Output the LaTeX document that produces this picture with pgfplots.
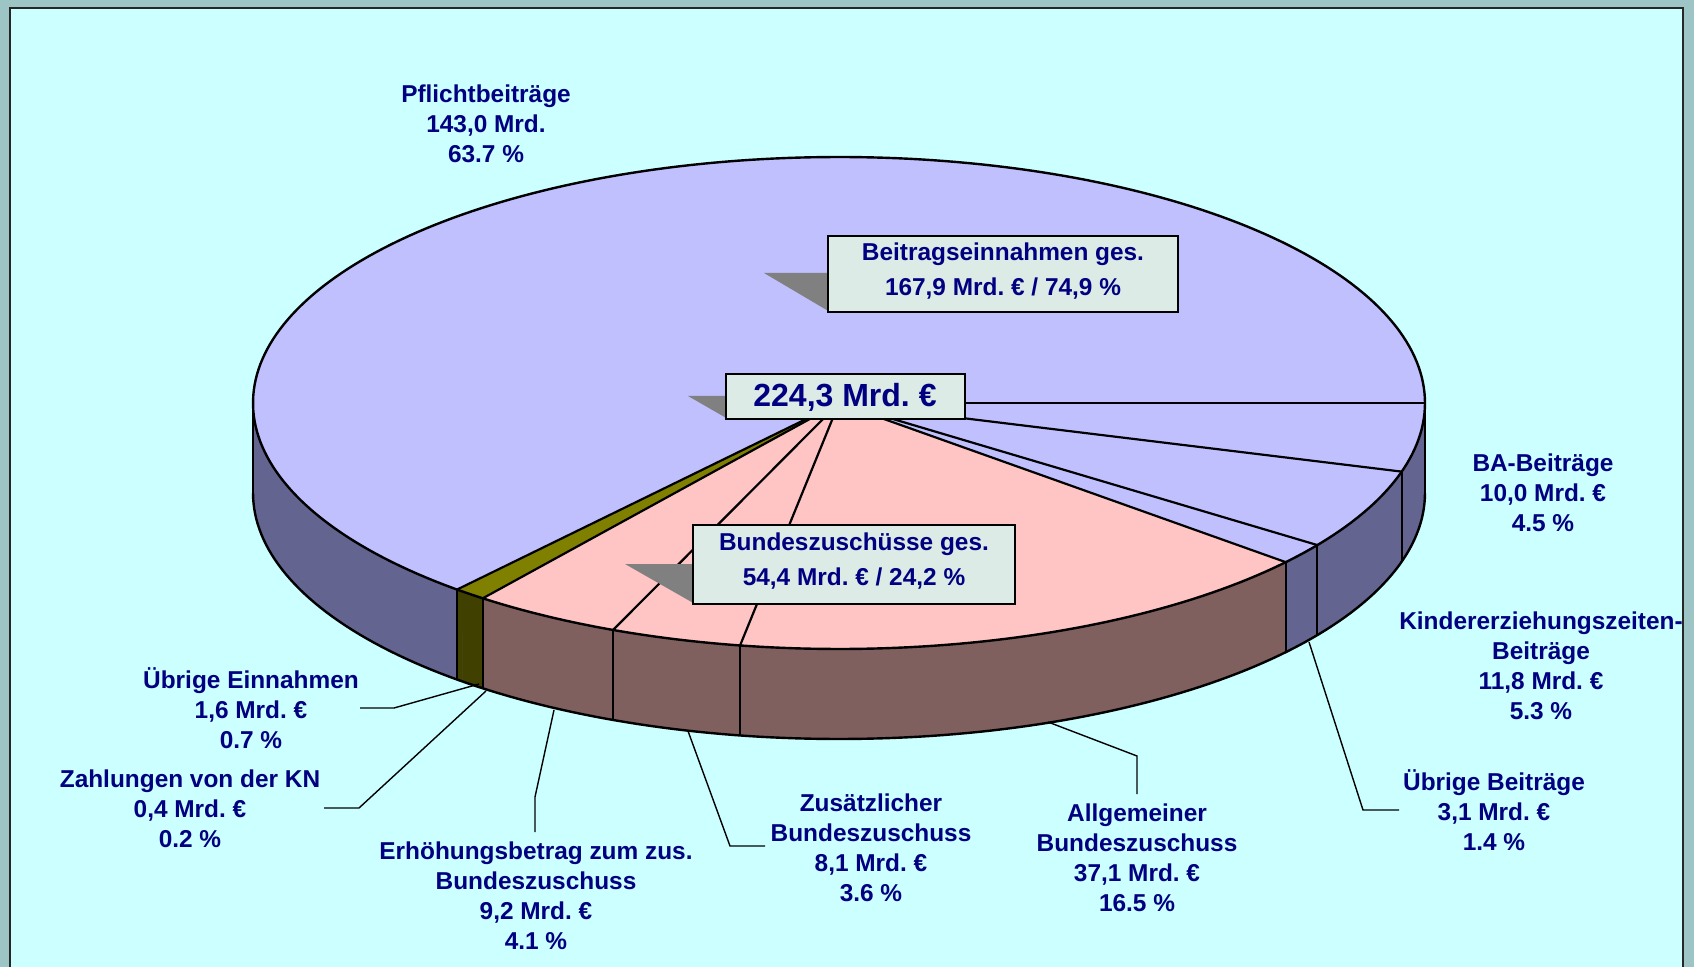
\documentclass[border=0pt]{standalone}
\usepackage{pgfplots}
\pgfplotsset{compat=1.18}
\usepackage{fontspec}
\setmainfont{Liberation Sans}
\definecolor{frameC}{HTML}{9EC5C5}
\definecolor{bgC}{HTML}{CCFFFF}
\definecolor{blueTop}{HTML}{C0C0FF}
\definecolor{blueSide}{HTML}{646491}
\definecolor{pinkTop}{HTML}{FFC4C4}
\definecolor{pinkSide}{HTML}{80605E}
\definecolor{oliveTop}{HTML}{808000}
\definecolor{oliveSide}{HTML}{404000}
\definecolor{boxC}{HTML}{DCEBE5}
\definecolor{navy}{HTML}{000080}
\definecolor{ptr}{HTML}{808080}
% geometry (pixel units)
\def\cx{839}\def\cy{403}\def\rx{586}\def\ry{246}\def\dep{90}
% data: shares in percent
\def\vPf{63.7}\def\vBA{4.5}\def\vKi{5.3}\def\vUB{1.4}\def\vAl{16.5}
\def\vZu{3.6}\def\vEr{4.1}\def\vUE{0.7}\def\vKN{0.2}
\pgfmathsetmacro\aA{0}
\pgfmathsetmacro\aB{\aA+3.6*\vBA}
\pgfmathsetmacro\aC{\aB+3.6*\vKi}
\pgfmathsetmacro\aD{\aC+3.6*\vUB}
\pgfmathsetmacro\aE{\aD+3.6*\vAl}
\pgfmathsetmacro\aF{\aE+3.6*\vZu}
\pgfmathsetmacro\aG{\aF+3.6*\vEr}
\pgfmathsetmacro\aH{\aG+3.6*\vUE}
\pgfmathsetmacro\aI{\aH+3.6*\vKN}
\pgfmathsetmacro\aJ{\aI+3.6*\vPf}
\newcommand\topslice[3]{%
 \addplot[draw=#3, line width=0.4pt, fill=#3, domain=#1:#2, samples=80, variable=\t]
  ({\cx+\rx*cos(\t)},{\cy+\ry*sin(\t)}) -- (axis cs:\cx,\cy) -- cycle;}
\newcommand\sideslice[3]{%
 \addplot[draw=#3, line width=0.4pt, fill=#3, domain=#1:#2, samples=80, variable=\t]
  ({\cx+\rx*cos(\t)},{\cy+\dep+\ry*sin(\t)})
  -- (axis cs:{\cx+\rx*cos(#2)},{\cy+\ry*sin(#2)})
  arc[start angle=-#2, end angle=-#1, x radius=\rx*0.5pt, y radius=\ry*0.5pt] -- cycle;}
\tikzset{lbl/.style={text=navy, align=center, inner sep=0pt,
  font=\bfseries\fontsize{12.2}{15}\selectfont},
  boxlbl/.style={text=navy, align=center, inner sep=0pt,
  font=\bfseries\fontsize{12.2}{17.5}\selectfont}}
\begin{document}%
\begin{tikzpicture}
\begin{axis}[scale only axis, width=847pt, height=483.5pt,
  xmin=0, xmax=1694, ymin=0, ymax=967, y dir=reverse,
  hide axis, clip=false, enlargelimits=false]
% background
\fill[frameC] (axis cs:0,0) rectangle (axis cs:1694,967);
\fill[bgC] (axis cs:10,8) rectangle (axis cs:1683,967);
\draw[line width=1pt, black!85] (axis cs:10,967) -- (axis cs:10,8) -- (axis cs:1683,8) -- (axis cs:1683,967);
% sides
\sideslice{\aA}{\aB}{blueSide}
\sideslice{\aB}{\aC}{blueSide}
\sideslice{\aC}{\aD}{blueSide}
\sideslice{\aD}{\aE}{pinkSide}
\sideslice{\aE}{\aF}{pinkSide}
\sideslice{\aF}{\aG}{pinkSide}
\sideslice{\aG}{\aH}{oliveSide}
\sideslice{\aH}{\aI}{oliveSide}
\sideslice{\aI}{180}{blueSide}
\addplot[draw=black, line width=1.2pt, domain=0:180, samples=150, variable=\t]
  ({\cx+\rx*cos(\t)},{\cy+\dep+\ry*sin(\t)});
\pgfplotsinvokeforeach{\aA,\aB,\aC,\aD,\aE,\aF,\aG,\aI,180}{
  \draw[line width=1.1pt] (axis cs:{\cx+\rx*cos(#1)},{\cy+\ry*sin(#1)}) -- (axis cs:{\cx+\rx*cos(#1)},{\cy+\dep+\ry*sin(#1)});
}
% top faces
\topslice{\aA}{\aB}{blueTop}
\topslice{\aB}{\aC}{blueTop}
\topslice{\aC}{\aD}{blueTop}
\topslice{\aD}{\aE}{pinkTop}
\topslice{\aE}{\aF}{pinkTop}
\topslice{\aF}{\aG}{pinkTop}
\topslice{\aG}{\aH}{oliveTop}
\topslice{\aH}{\aI}{oliveTop}
\topslice{\aI}{\aJ}{blueTop}
\addplot[draw=black, line width=1.2pt, domain=0:360, samples=300, variable=\t]
  ({\cx+\rx*cos(\t)},{\cy+\ry*sin(\t)});
\pgfplotsinvokeforeach{\aA,\aB,\aC,\aD,\aE,\aF,\aG,\aI}{
  \draw[line width=1.1pt] (axis cs:\cx,\cy) -- (axis cs:{\cx+\rx*cos(#1)},{\cy+\ry*sin(#1)});
}
% boxes
\fill[ptr] (axis cs:764,273) -- (axis cs:830,273) -- (axis cs:830,312) -- cycle;
\draw[fill=boxC, line width=0.8pt] (axis cs:828,236) rectangle (axis cs:1178,312);
\node[boxlbl] at (axis cs:1003,271) {Beitragseinnahmen ges.\\167,9 Mrd.~€ / 74,9~\%};
\fill[ptr] (axis cs:688,396) -- (axis cs:728,396) -- (axis cs:728,419) -- cycle;
\draw[fill=boxC, line width=0.8pt] (axis cs:726,374) rectangle (axis cs:965,419);
\node[text=navy, inner sep=0pt, font=\bfseries\fontsize{16}{19}\selectfont] at (axis cs:845,397) {224,3 Mrd.~€};
\fill[ptr] (axis cs:625,564) -- (axis cs:695,564) -- (axis cs:695,604) -- cycle;
\draw[fill=boxC, line width=0.8pt] (axis cs:693,525) rectangle (axis cs:1015,604);
\node[boxlbl] at (axis cs:854,561) {Bundeszuschüsse ges.\\54,4 Mrd.~€ / 24,2~\%};
% leader lines
\draw[line width=0.7pt] (axis cs:1309,642) -- (axis cs:1363,810) -- (axis cs:1399,810);
\draw[line width=0.7pt] (axis cs:1048,722) -- (axis cs:1137,756) -- (axis cs:1137,794);
\draw[line width=0.7pt] (axis cs:688,731) -- (axis cs:730,846) -- (axis cs:765,846);
\draw[line width=0.7pt] (axis cs:554,710) -- (axis cs:535,797) -- (axis cs:535,832);
\draw[line width=0.7pt] (axis cs:479,684) -- (axis cs:394,708) -- (axis cs:360,708);
\draw[line width=0.7pt] (axis cs:486,691) -- (axis cs:359,808) -- (axis cs:324,808);
% labels
\node[lbl] at (axis cs:486,124) {Pflichtbeiträge\\143,0 Mrd.\\63.7 \%};
\node[lbl] at (axis cs:1543,493) {BA-Beiträge\\10,0 Mrd.~€\\4.5 \%};
\node[lbl] at (axis cs:1541,666) {Kindererziehungszeiten-\\Beiträge\\11,8 Mrd.~€\\5.3 \%};
\node[lbl] at (axis cs:1494,810) {Übrige Beiträge\\3,1 Mrd.~€\\1.4 \%};
\node[lbl] at (axis cs:1137,858) {Allgemeiner\\Bundeszuschuss\\37,1 Mrd.~€\\16.5 \%};
\node[lbl] at (axis cs:871,848) {Zusätzlicher\\Bundeszuschuss\\8,1 Mrd.~€\\3.6 \%};
\node[lbl] at (axis cs:536,896) {Erhöhungsbetrag zum zus.\\Bundeszuschuss\\9,2 Mrd.~€\\4.1 \%};
\node[lbl] at (axis cs:251,708) {Übrige Einnahmen\\1,6 Mrd.~€\\0.7 \%};
\node[lbl] at (axis cs:190,809) {Zahlungen von der KN\\0,4 Mrd.~€\\0.2 \%};
\end{axis}
\end{tikzpicture}%
\end{document}
